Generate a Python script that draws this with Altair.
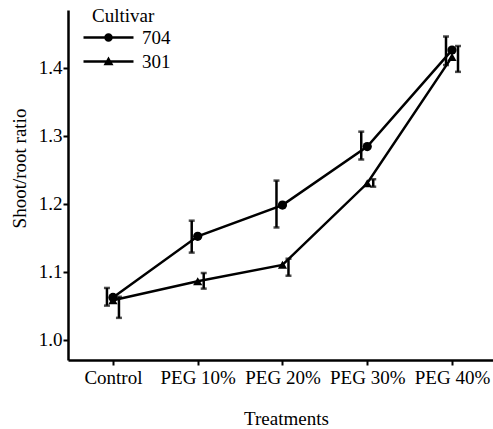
import altair as alt
import pandas as pd

treatments = ["Control", "PEG 10%", "PEG 20%", "PEG 30%", "PEG 40%"]
cultivars = ["704", "301"]
mean_704 = [1.062, 1.152, 1.198, 1.284, 1.426]
lo_704 = [1.050, 1.128, 1.165, 1.265, 1.404]
hi_704 = [1.076, 1.175, 1.234, 1.306, 1.446]
mean_301 = [1.058, 1.086, 1.110, 1.230, 1.416]
lo_301 = [1.032, 1.075, 1.094, 1.225, 1.394]
hi_301 = [1.063, 1.098, 1.119, 1.236, 1.432]
y_ticks = [1.0, 1.1, 1.2, 1.3, 1.4]

rows = []
for c, m, lo, hi in [("704", mean_704, lo_704, hi_704), ("301", mean_301, lo_301, hi_301)]:
    for t, a, b, d in zip(treatments, m, lo, hi):
        rows.append({"Treatment": t, "Cultivar": c, "mean": a, "lo": b, "hi": d})
df = pd.DataFrame(rows)

FONT = "Times New Roman, Liberation Serif, serif"

x_enc = alt.X("Treatment:N", sort=treatments,
              scale=alt.Scale(type="point", padding=0.507, align=0.523),
              axis=alt.Axis(title="Treatments", labelAngle=0, labelFontSize=19,
                            titleFontSize=19, labelPadding=3, tickSize=5,
                            titleX=218, titleY=64, titleBaseline="alphabetic",
                            titleFontWeight="normal"))
y_scale = alt.Scale(domain=[0.97, 1.485], nice=False, zero=False)
y_enc = alt.Y("mean:Q", scale=y_scale,
              axis=alt.Axis(title="Shoot/root ratio", values=y_ticks, format=".1f",
                            labelFontSize=19, titleFontSize=19, tickSize=5,
                            labelPadding=1, titleX=-43, titleY=158,
                            titleBaseline="alphabetic", titleFontWeight="normal",
                            grid=False))

base = alt.Chart(df)

lines = base.mark_line(color="black", strokeWidth=2.5).encode(
    x=x_enc, y=y_enc, detail="Cultivar:N")

marker_shapes = alt.Scale(domain=cultivars, range=["circle", "triangle-up"])
markers = base.mark_point(filled=True, color="black", size=85, opacity=1).encode(
    x=x_enc, y=y_enc,
    shape=alt.Shape("Cultivar:N", scale=marker_shapes, legend=None))

# legend glyphs: a thin filled bar (the line) plus the marker, in symbol units
legend_paths = [
    "M-3.6,-0.25L6.4,-0.25L6.4,0.25L-3.6,0.25Z"
    "M0.55,0A0.85,0.85,0,1,1,2.25,0A0.85,0.85,0,1,1,0.55,0Z",
    "M-3.6,-0.25L6.4,-0.25L6.4,0.25L-3.6,0.25Z"
    "M1.4,-1.0L2.4,0.75L0.4,0.75Z",
]
legend_layer = base.mark_point(filled=True, color="black", size=0).encode(
    x=x_enc, y=y_enc,
    shape=alt.Shape("Cultivar:N", sort=cultivars,
                    scale=alt.Scale(domain=cultivars, range=legend_paths),
                    legend=alt.Legend(title="Cultivar", orient="none", legendX=24,
                                      legendY=-3, padding=0, symbolSize=100,
                                      symbolFillColor="black", symbolOpacity=1,
                                      labelFontSize=19, titleFontSize=19,
                                      titleFontWeight="normal", labelOffset=31,
                                      rowPadding=4, titlePadding=2)))

def err_layers(cult, off):
    d = base.transform_filter(alt.datum.Cultivar == cult)
    rule = d.mark_rule(color="black", strokeWidth=2.5, xOffset=off).encode(
        x=x_enc, y=alt.Y("lo:Q", scale=y_scale), y2="hi:Q")
    cap_lo = d.mark_tick(color="black", thickness=2.5, size=6, xOffset=off).encode(
        x=x_enc, y=alt.Y("lo:Q", scale=y_scale))
    cap_hi = d.mark_tick(color="black", thickness=2.5, size=6, xOffset=off).encode(
        x=x_enc, y=alt.Y("hi:Q", scale=y_scale))
    return [rule, cap_lo, cap_hi]

layers = [lines] + err_layers("704", -6) + err_layers("301", 6) + [markers, legend_layer]

chart = alt.layer(*layers).resolve_scale(shape="independent").properties(
    width=425, height=350,
    autosize=alt.AutoSizeParams(type="none"),
    padding={"left": 68, "top": 10, "right": 0, "bottom": 69},
).configure(font=FONT).configure_view(stroke=None).configure_axis(
    domainColor="black", domainWidth=2.5, tickColor="black", tickWidth=2,
    labelColor="black", titleColor="black", labelFont=FONT, titleFont=FONT,
).configure_legend(labelFont=FONT, titleFont=FONT, labelColor="black", titleColor="black")

chart.save("out.html", embed_options={"renderer": "svg", "actions": False})
